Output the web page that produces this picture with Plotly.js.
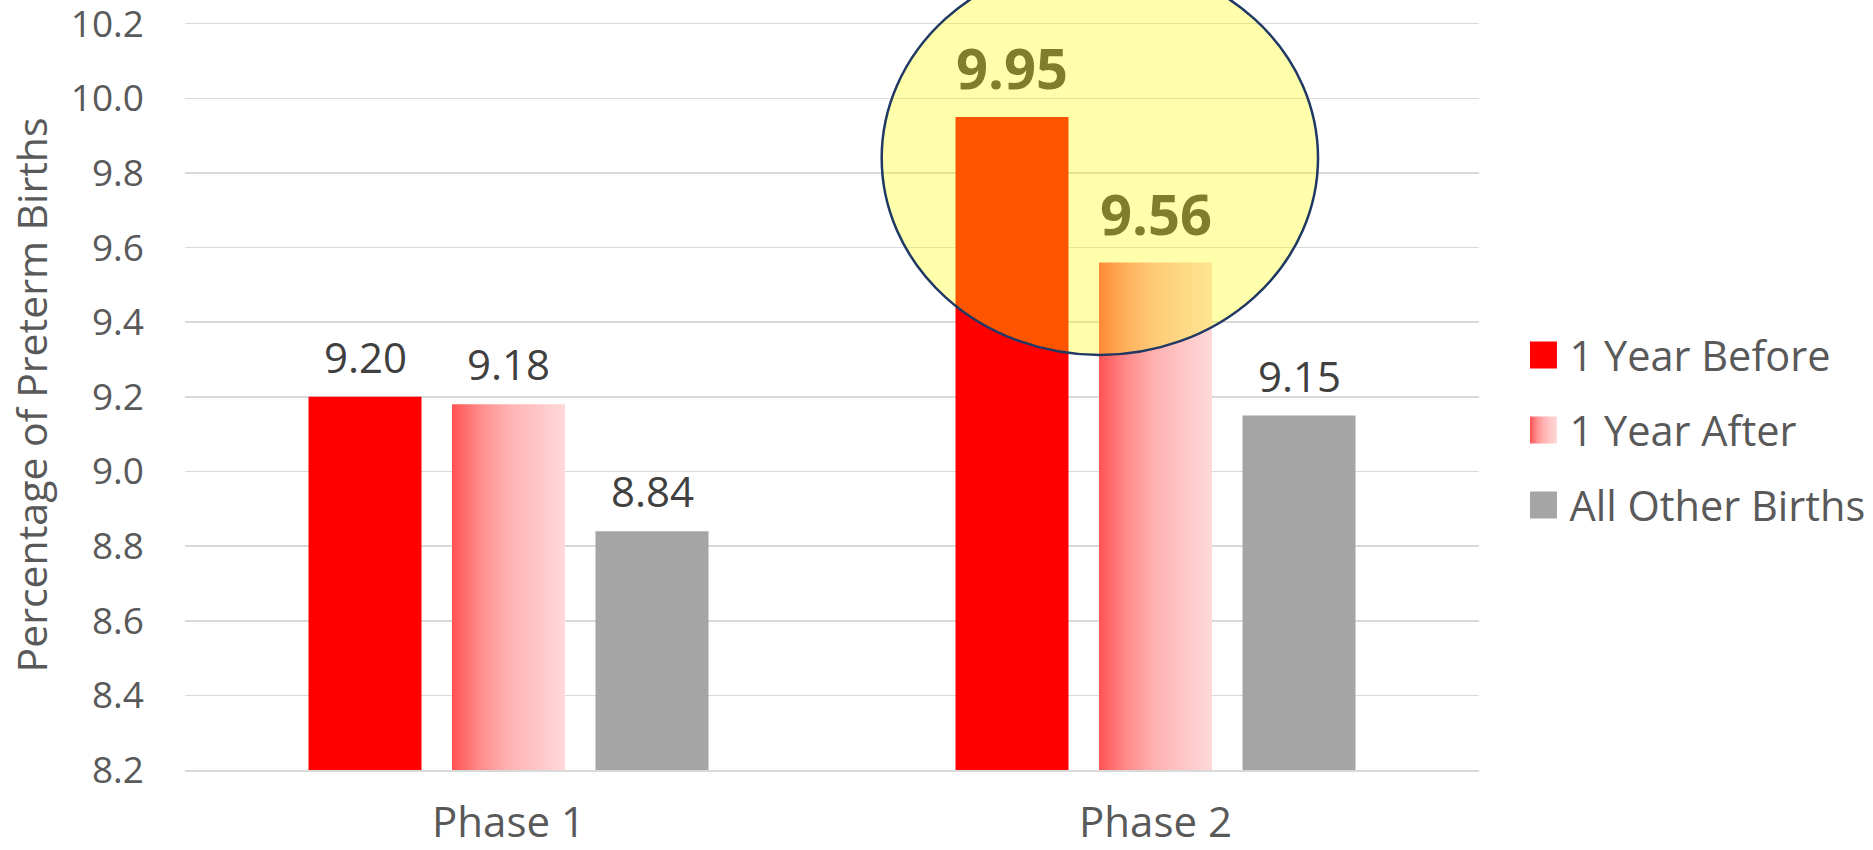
<!DOCTYPE html>
<html>
<head>
<meta charset="utf-8">
<script src="https://cdn.plot.ly/plotly-3.0.1.min.js"></script>
<style>
  html, body { margin: 0; padding: 0; background: #fff; }
  #chart { width: 1873px; height: 850px; }
</style>
</head>
<body>
<div id="chart"></div>
<script>
// ---- data ----
const categories = ['Phase 1', 'Phase 2'];
const seriesNames = ['1 Year Before', '1 Year After', 'All Other Births'];
const beforeValues = [9.20, 9.95];
const afterValues = [9.18, 9.56];
const otherValues = [8.84, 9.15];
const yTickValues = [8.2, 8.4, 8.6, 8.8, 9.0, 9.2, 9.4, 9.6, 9.8, 10.0, 10.2];

// ---- styling ----
const FONT = '"Open Sans", "Noto Sans", sans-serif';
const seriesValues = [beforeValues, afterValues, otherValues];
const seriesColors = ['#FF0000', '#FF9C9C', '#A5A5A5'];
const highlightCategory = 'Phase 2';
const highlightSeries = [0, 1];
const BARGAP = 0.3346;
const BARGROUPGAP = 0.2125;

const traces = seriesNames.map((name, i) => ({
  type: 'bar',
  name: name,
  x: categories,
  y: seriesValues[i],
  legendgroup: 'g' + i,
  marker: { color: seriesColors[i], line: { width: 0 } },
  hoverinfo: 'skip'
}));

// data labels built from the data arrays
const slot = (1 - BARGAP) / seriesNames.length;
const annotations = [];
seriesValues.forEach((vals, i) => {
  vals.forEach((v, j) => {
    const hl = categories[j] === highlightCategory && highlightSeries.includes(i);
    annotations.push({
      xref: 'x', yref: 'y',
      x: j + (i - (seriesNames.length - 1) / 2) * slot,
      y: v,
      text: hl ? '<b>' + v.toFixed(2) + '</b>' : v.toFixed(2),
      showarrow: false,
      yanchor: 'bottom',
      yshift: 10,
      font: hl ? { family: FONT, size: 56, color: '#7F7F2B' }
               : { family: FONT, size: 42, color: '#404040' }
    });
  });
});

const layout = {
  width: 1873, height: 850,
  margin: { l: 185, r: 394, t: 20, b: 80, pad: 0, autoexpand: false },
  paper_bgcolor: '#FFFFFF',
  plot_bgcolor: '#FFFFFF',
  barmode: 'group',
  bargap: BARGAP,
  bargroupgap: BARGROUPGAP,
  font: { family: FONT, color: '#595959' },
  showlegend: true,
  legend: {
    x: 1.039, xanchor: 'left',
    y: 0.4533, yanchor: 'middle',
    font: { family: FONT, size: 41.5, color: '#595959' },
    tracegroupgap: 18,
    bgcolor: 'rgba(0,0,0,0)',
    borderwidth: 0
  },
  xaxis: {
    type: 'category',
    showgrid: false,
    showline: true, linecolor: '#D9D9D9', linewidth: 1.5,
    ticks: '',
    tickfont: { family: FONT, size: 42, color: '#595959' },
    ticklabelstandoff: 15,
    ticklabeloverflow: 'allow',
    automargin: false,
    fixedrange: true
  },
  yaxis: {
    range: [8.2, 10.21],
    tickvals: yTickValues,
    ticktext: yTickValues.map(v => v.toFixed(1)),
    showgrid: true, gridcolor: '#D9D9D9', gridwidth: 1.5,
    zeroline: false, showline: false, ticks: '',
    tickfont: { family: FONT, size: 37, color: '#595959' },
    ticklabelstandoff: 40,
    ticklabeloverflow: 'allow',
    automargin: false,
    title: { text: 'Percentage of Preterm Births', font: { family: FONT, size: 41, color: '#595959' }, standoff: 10 },
    fixedrange: true
  },
  annotations: annotations,
  shapes: [{
    type: 'circle', xref: 'paper', yref: 'paper', layer: 'above',
    x0: 0.5384, x1: 0.8756, y0: 0.5533, y1: 1.0787,
    fillcolor: 'rgba(255,255,0,0.33)',
    line: { color: '#1F3864', width: 2.5 }
  }]
};

const gd = document.getElementById('chart');
Plotly.newPlot(gd, traces, layout, { displayModeBar: false, staticPlot: true }).then(() => {
  // horizontal gradient for the "1 Year After" series
  const svgNS = 'http://www.w3.org/2000/svg';
  const svg = gd.querySelector('svg.main-svg');
  let defs = svg.querySelector('defs');
  if (!defs) { defs = document.createElementNS(svgNS, 'defs'); svg.insertBefore(defs, svg.firstChild); }
  const grad = document.createElementNS(svgNS, 'linearGradient');
  grad.setAttribute('id', 'gradAfter');
  grad.setAttribute('x1', '0'); grad.setAttribute('y1', '0');
  grad.setAttribute('x2', '1'); grad.setAttribute('y2', '0');
  [[0, '#FF5252'], [0.25, '#FF8C8C'], [0.5, '#FFB2B2'], [1, '#FFD9D9']].forEach(([o, c]) => {
    const s = document.createElementNS(svgNS, 'stop');
    s.setAttribute('offset', o); s.setAttribute('stop-color', c);
    grad.appendChild(s);
  });
  defs.appendChild(grad);

  const barTraces = gd.querySelectorAll('.barlayer .trace');
  if (barTraces[1]) barTraces[1].querySelectorAll('path').forEach(p => { p.style.fill = 'url(#gradAfter)'; });

  // larger legend swatches
  const legendItems = gd.querySelectorAll('.legend .traces');
  legendItems.forEach((item, i) => {
    item.querySelectorAll('.legendpoints path').forEach(p => {
      const old = p.getAttribute('transform') || '';
      p.setAttribute('transform', old + ' translate(-6,0) scale(2.25)');
      if (i === 1) p.style.fill = 'url(#gradAfter)';
    });
  });
});
</script>
</body>
</html>
